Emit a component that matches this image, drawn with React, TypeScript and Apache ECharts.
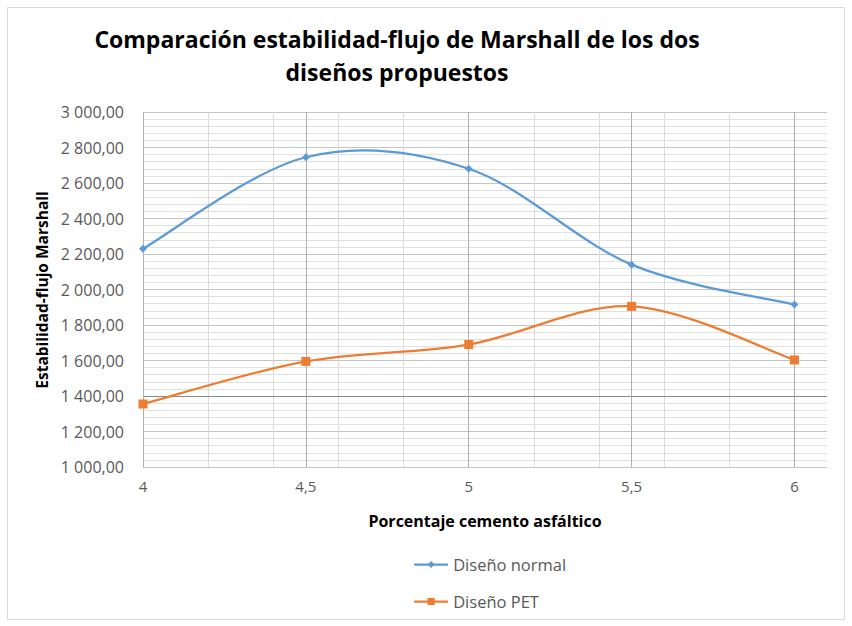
import React, { useEffect, useRef } from "react";
import * as echarts from "echarts";

const xValues = [4, 4.5, 5, 5.5, 6];
const normalValues = [2230, 2745, 2680, 2140, 1915];
const petValues = [1355, 1595, 1690, 1905, 1603];
const titleText = "Comparación estabilidad-flujo de Marshall de los dos\ndiseños propuestos";
const yName = "Estabilidad-flujo Marshall";
const xName = "Porcentaje cemento asfáltico";
const seriesNames = ["Diseño normal", "Diseño PET"];
const seriesColors = ["#5b9bd5", "#ed7d31"];

const fmtY = (v: number) => {
  const s = v.toFixed(2).replace(".", ",");
  const [i, d] = s.split(",");
  return i.replace(/\B(?=(\d{3})+(?!\d))/g, " ") + "," + d;
};

// Smooth (Catmull-Rom style) segment drawn through the chart's own coordinate system
const makeCurve = (values: number[], color: string) => (params: any, api: any) => {
  const i = params.dataIndex;
  const n = xValues.length;
  if (i >= n - 1) return null;
  const pt = (k: number) => {
    const kk = Math.max(0, Math.min(n - 1, k));
    return api.coord([xValues[kk], values[kk]]);
  };
  const p0 = pt(i - 1);
  const p1 = pt(i);
  const p2 = pt(i + 1);
  const p3 = pt(i + 2);
  const c1 = [p1[0] + (p2[0] - p0[0]) / 6, p1[1] + (p2[1] - p0[1]) / 6];
  const c2 = [p2[0] - (p3[0] - p1[0]) / 6, p2[1] - (p3[1] - p1[1]) / 6];
  return {
    type: "bezierCurve",
    shape: { x1: p1[0], y1: p1[1], x2: p2[0], y2: p2[1], cpx1: c1[0], cpy1: c1[1], cpx2: c2[0], cpy2: c2[1] },
    style: { stroke: color, lineWidth: 2.25, fill: "none" },
  };
};

export default function App() {
  const ref = useRef<HTMLDivElement>(null);
  useEffect(() => {
    if (!ref.current) return;
    const chart = echarts.init(ref.current, null, { renderer: "svg" });
    const font = "'Open Sans', 'Noto Sans', sans-serif";
    chart.setOption({
      animation: false,
      backgroundColor: "#ffffff",
      textStyle: { fontFamily: font },
      grid: { left: 143, right: 25, top: 112, bottom: 159, containLabel: false },
      xAxis: [
        {
          type: "value",
          min: 4,
          max: 6.1,
          interval: 0.5,
          z: 3,
          axisLine: { show: false },
          axisTick: { show: false },
          axisLabel: {
            margin: 11,
            fontSize: 15,
            color: "#595959",
            fontFamily: font,
            formatter: (v: number) =>
              Math.abs(v * 2 - Math.round(v * 2)) < 1e-6 ? String(v).replace(".", ",") : "",
          },
          splitLine: { show: true, showMaxLine: false, lineStyle: { color: "#b0b0b0", width: 1 } },
        },
        {
          type: "value",
          min: 4,
          max: 6.1,
          interval: 0.2,
          position: "top",
          z: 1,
          axisLine: { show: false },
          axisTick: { show: false },
          axisLabel: { show: false },
          splitLine: { show: true, showMaxLine: false, lineStyle: { color: "#dcdcdc", width: 1 } },
        },
      ],
      yAxis: {
        type: "value",
        min: 1000,
        max: 3000,
        interval: 200,
        axisLine: { show: false },
        axisTick: { show: false },
        axisLabel: { margin: 19, fontSize: 16, color: "#595959", fontFamily: font, formatter: fmtY },
        splitLine: { show: true, lineStyle: { color: "#c4c4c4", width: 1 } },
        minorTick: { show: false, splitNumber: 5 },
        minorSplitLine: { show: true, lineStyle: { color: "#e0e0e0", width: 1 } },
      },
      legend: {
        orient: "vertical",
        left: 408,
        top: 551,
        itemWidth: 34,
        itemHeight: 9,
        itemGap: 20,
        textStyle: { fontSize: 16.5, color: "#595959", fontFamily: font, lineHeight: 16 },
        data: seriesNames.map((name, k) => ({
          name,
          lineStyle: { color: seriesColors[k], width: 2.25, opacity: 1 },
        })),
      },
      series: [
        {
          type: "custom",
          renderItem: makeCurve(normalValues, seriesColors[0]),
          data: xValues.map((x, i) => [x, normalValues[i]]),
          encode: { x: 0, y: 1 },
          z: 4,
          silent: true,
        },
        {
          type: "custom",
          renderItem: makeCurve(petValues, seriesColors[1]),
          data: xValues.map((x, i) => [x, petValues[i]]),
          encode: { x: 0, y: 1 },
          z: 4,
          silent: true,
        },
        {
          name: seriesNames[0],
          type: "line",
          data: xValues.map((x, i) => [x, normalValues[i]]),
          symbol: "diamond",
          symbolSize: 8,
          color: seriesColors[0],
          lineStyle: { width: 2.25, color: seriesColors[0], opacity: 0 },
          itemStyle: { color: seriesColors[0] },
          z: 5,
          markLine: {
            silent: true,
            symbol: "none",
            label: { show: false },
            lineStyle: { color: "#8c8c8c", type: "solid", width: 1.2, opacity: 1 },
            data: [{ yAxis: 1400 }],
            z: 2,
          },
        },
        {
          name: seriesNames[1],
          type: "line",
          data: xValues.map((x, i) => [x, petValues[i]]),
          symbol: "rect",
          symbolSize: 9,
          color: seriesColors[1],
          lineStyle: { width: 2.25, color: seriesColors[1], opacity: 0 },
          itemStyle: { color: seriesColors[1] },
          z: 5,
        },
      ],
      graphic: [
        {
          type: "rect",
          shape: { x: 7.5, y: 7.5, width: 837, height: 612 },
          style: { fill: "none", stroke: "#d9d9d9", lineWidth: 1 },
          silent: true,
        },
        {
          type: "text",
          x: 397,
          y: 22,
          style: {
            text: titleText,
            font: `bold 23px ${font}`,
            fill: "#000000",
            textAlign: "center",
            textVerticalAlign: "top",
            lineHeight: 33,
          },
        },
        {
          type: "text",
          x: 42,
          y: 290,
          rotation: Math.PI / 2,
          style: {
            text: yName,
            font: `bold 15.5px ${font}`,
            fill: "#000000",
            textAlign: "center",
            textVerticalAlign: "middle",
          },
        },
        {
          type: "text",
          x: 485,
          y: 521,
          style: {
            text: xName,
            font: `bold 16px ${font}`,
            fill: "#000000",
            textAlign: "center",
            textVerticalAlign: "middle",
          },
        },
      ],
    });
    return () => chart.dispose();
  }, []);
  return (
    <div
      ref={ref}
      style={{ position: "fixed", left: 0, top: 0, width: 852, height: 626, background: "#fff" }}
    />
  );
}
